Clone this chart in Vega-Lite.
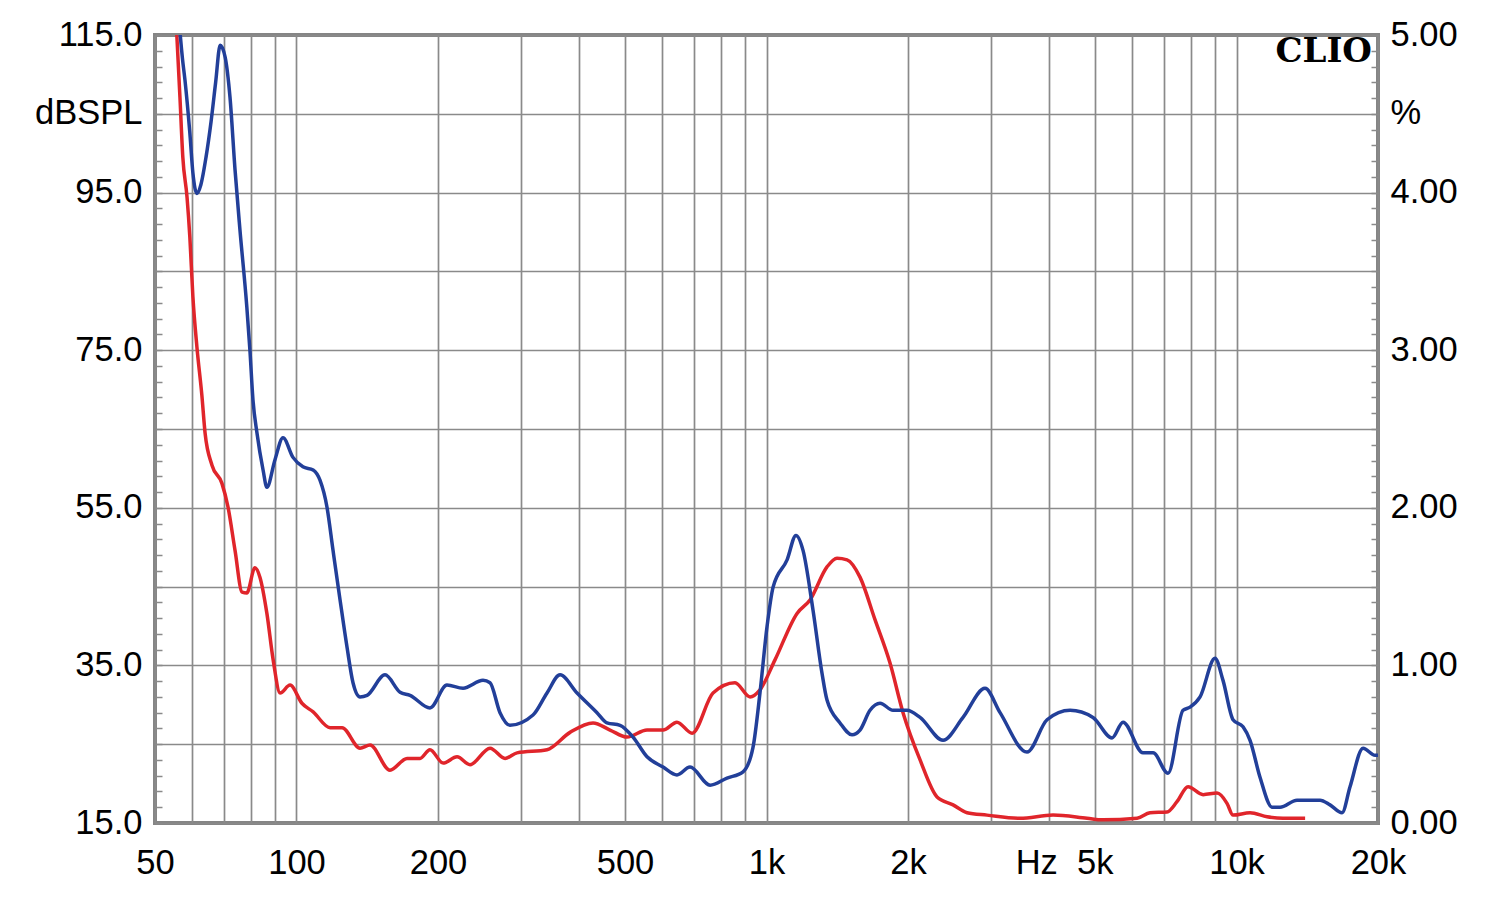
{
  "$schema": "https://vega.github.io/schema/vega-lite/v6.json",
  "width": 1223,
  "height": 788,
  "autosize": {"type": "none"},
  "padding": {"left": 155, "top": 35, "right": 122, "bottom": 76},
  "background": "white",
  "config": {
    "view": {"stroke": "#858585", "strokeWidth": 4},
    "axis": {"labelFont": "Liberation Sans", "labelFontSize": 34.5, "labelColor": "#000000", "domain": false}
  },
  "datasets": {
    "curves": [
      {"s":"r","f":55.5,"db":116.3},{"s":"r","f":56.5,"db":107.1},{"s":"r","f":57.3,"db":99.5},{"s":"r","f":58.5,"db":94.4},{"s":"r","f":59.3,"db":89.4},{"s":"r","f":60.2,"db":81.8},{"s":"r","f":61.4,"db":75.4},{"s":"r","f":62.9,"db":69.3},{"s":"r","f":63.9,"db":64.5},{"s":"r","f":66.1,"db":60.4},{"s":"r","f":69.4,"db":58.1},{"s":"r","f":71.5,"db":55.1},{"s":"r","f":74.0,"db":49.6},{"s":"r","f":76.6,"db":44.3},{"s":"r","f":78.4,"db":44.2},{"s":"r","f":81.6,"db":47.4},{"s":"r","f":83.6,"db":46.2},{"s":"r","f":86.5,"db":41.6},{"s":"r","f":89.2,"db":35.7},{"s":"r","f":92.3,"db":31.5},{"s":"r","f":96.9,"db":32.5},{"s":"r","f":102.7,"db":30.2},{"s":"r","f":108.5,"db":29.1},{"s":"r","f":117.9,"db":27.1},{"s":"r","f":125,"db":27.1},{"s":"r","f":136.5,"db":24.5},{"s":"r","f":143.4,"db":24.9},{"s":"r","f":158.1,"db":21.7},{"s":"r","f":171.9,"db":23.2},{"s":"r","f":183.2,"db":23.2},{"s":"r","f":192.3,"db":24.3},{"s":"r","f":205.1,"db":22.6},{"s":"r","f":219.6,"db":23.4},{"s":"r","f":234,"db":22.4},{"s":"r","f":258.1,"db":24.5},{"s":"r","f":277.8,"db":23.2},{"s":"r","f":294.6,"db":23.9},{"s":"r","f":341.2,"db":24.3},{"s":"r","f":381.9,"db":26.5},{"s":"r","f":427.5,"db":27.7},{"s":"r","f":464.6,"db":26.8},{"s":"r","f":505,"db":25.9},{"s":"r","f":557,"db":26.8},{"s":"r","f":602.5,"db":26.8},{"s":"r","f":645,"db":27.8},{"s":"r","f":694.5,"db":26.4},{"s":"r","f":769.5,"db":31.5},{"s":"r","f":857,"db":32.8},{"s":"r","f":922.5,"db":31.0},{"s":"r","f":968.5,"db":31.9},{"s":"r","f":1042.5,"db":35.7},{"s":"r","f":1161.5,"db":41.6},{"s":"r","f":1237.5,"db":43.3},{"s":"r","f":1345,"db":47.5},{"s":"r","f":1412.5,"db":48.6},{"s":"r","f":1484,"db":48.4},{"s":"r","f":1581,"db":46.2},{"s":"r","f":1701.5,"db":40.8},{"s":"r","f":1831.5,"db":35.3},{"s":"r","f":1952,"db":29.0},{"s":"r","f":2122,"db":23.0},{"s":"r","f":2306,"db":18.3},{"s":"r","f":2494,"db":17.3},{"s":"r","f":2671.5,"db":16.3},{"s":"r","f":2945.5,"db":16.0},{"s":"r","f":3462.5,"db":15.6},{"s":"r","f":4070.5,"db":16.0},{"s":"r","f":4808.5,"db":15.6},{"s":"r","f":5200,"db":15.4},{"s":"r","f":6145,"db":15.6},{"s":"r","f":6545,"db":16.3},{"s":"r","f":7115,"db":16.4},{"s":"r","f":7470,"db":17.7},{"s":"r","f":7885,"db":19.6},{"s":"r","f":8490,"db":18.6},{"s":"r","f":9090,"db":18.8},{"s":"r","f":9545,"db":17.5},{"s":"r","f":9830,"db":16.0},{"s":"r","f":10685,"db":16.3},{"s":"r","f":11615,"db":15.8},{"s":"r","f":12560,"db":15.6},{"s":"r","f":13995,"db":15.6},
      {"s":"b","f":56.3,"db":116.5},{"s":"b","f":57.2,"db":112.0},{"s":"b","f":57.9,"db":109.3},{"s":"b","f":59.3,"db":102.6},{"s":"b","f":60.2,"db":97.5},{"s":"b","f":61.4,"db":94.9},{"s":"b","f":62.6,"db":96.0},{"s":"b","f":64.2,"db":99.5},{"s":"b","f":65.8,"db":104.0},{"s":"b","f":67.3,"db":109.0},{"s":"b","f":68.8,"db":113.7},{"s":"b","f":70.5,"db":112.2},{"s":"b","f":72.2,"db":107.1},{"s":"b","f":74.0,"db":97.9},{"s":"b","f":75.8,"db":90.3},{"s":"b","f":78.4,"db":80.5},{"s":"b","f":79.6,"db":75.0},{"s":"b","f":80.8,"db":68.7},{"s":"b","f":82.4,"db":64.5},{"s":"b","f":84.9,"db":59.8},{"s":"b","f":86.5,"db":57.6},{"s":"b","f":90.0,"db":61.1},{"s":"b","f":93.6,"db":63.9},{"s":"b","f":98.3,"db":61.4},{"s":"b","f":103.2,"db":60.2},{"s":"b","f":108.5,"db":59.8},{"s":"b","f":112.2,"db":58.5},{"s":"b","f":116.1,"db":55.1},{"s":"b","f":119.6,"db":49.6},{"s":"b","f":123.8,"db":43.3},{"s":"b","f":128.1,"db":37.3},{"s":"b","f":131.9,"db":32.8},{"s":"b","f":136.5,"db":31.0},{"s":"b","f":141.3,"db":31.2},{"s":"b","f":154.3,"db":33.8},{"s":"b","f":166.1,"db":31.6},{"s":"b","f":174.4,"db":31.2},{"s":"b","f":192.3,"db":29.6},{"s":"b","f":209,"db":32.5},{"s":"b","f":226.1,"db":32.1},{"s":"b","f":249.4,"db":33.1},{"s":"b","f":258.1,"db":32.8},{"s":"b","f":271,"db":29.0},{"s":"b","f":284.6,"db":27.4},{"s":"b","f":318.6,"db":28.7},{"s":"b","f":341.2,"db":31.5},{"s":"b","f":363.7,"db":33.8},{"s":"b","f":395.3,"db":31.5},{"s":"b","f":435.9,"db":29.0},{"s":"b","f":457.8,"db":27.7},{"s":"b","f":488,"db":27.4},{"s":"b","f":520,"db":25.9},{"s":"b","f":557,"db":23.4},{"s":"b","f":602.5,"db":22.1},{"s":"b","f":645,"db":21.1},{"s":"b","f":687.5,"db":22.1},{"s":"b","f":758.5,"db":19.8},{"s":"b","f":824,"db":20.7},{"s":"b","f":891.5,"db":21.5},{"s":"b","f":936,"db":24.6},{"s":"b","f":968.5,"db":31.5},{"s":"b","f":1002.5,"db":39.9},{"s":"b","f":1032.5,"db":44.9},{"s":"b","f":1106,"db":48.4},{"s":"b","f":1155.5,"db":51.5},{"s":"b","f":1196,"db":49.6},{"s":"b","f":1256,"db":42.0},{"s":"b","f":1312.5,"db":34.0},{"s":"b","f":1345,"db":30.6},{"s":"b","f":1433.5,"db":27.7},{"s":"b","f":1520.5,"db":26.2},{"s":"b","f":1581,"db":26.8},{"s":"b","f":1660.5,"db":29.3},{"s":"b","f":1744,"db":30.2},{"s":"b","f":1858.5,"db":29.3},{"s":"b","f":1990.5,"db":29.3},{"s":"b","f":2122,"db":28.4},{"s":"b","f":2375,"db":25.5},{"s":"b","f":2619,"db":28.4},{"s":"b","f":2917,"db":32.1},{"s":"b","f":3140,"db":29.0},{"s":"b","f":3583,"db":24.0},{"s":"b","f":3953,"db":28.1},{"s":"b","f":4424,"db":29.3},{"s":"b","f":4950,"db":28.4},{"s":"b","f":5435,"db":25.8},{"s":"b","f":5735,"db":27.8},{"s":"b","f":6325,"db":23.9},{"s":"b","f":6645,"db":23.9},{"s":"b","f":7150,"db":21.3},{"s":"b","f":7695,"db":29.3},{"s":"b","f":7965,"db":29.7},{"s":"b","f":8365,"db":31.0},{"s":"b","f":9000,"db":35.9},{"s":"b","f":9360,"db":33.1},{"s":"b","f":9830,"db":28.1},{"s":"b","f":10325,"db":27.2},{"s":"b","f":10685,"db":25.5},{"s":"b","f":11220,"db":20.8},{"s":"b","f":11905,"db":17.0},{"s":"b","f":12375,"db":17.0},{"s":"b","f":13450,"db":17.9},{"s":"b","f":15055,"db":17.9},{"s":"b","f":15810,"db":17.3},{"s":"b","f":16770,"db":16.3},{"s":"b","f":17440,"db":19.6},{"s":"b","f":18585,"db":24.5},{"s":"b","f":19710,"db":23.6},{"s":"b","f":20000,"db":23.6}
    ],
    "brand": [{"f": 20000, "db": 112.8, "t": "CLIO"}]
  },
  "layer": [
    {
      "data": {"name": "curves"},
      "mark": {"type": "line", "interpolate": "monotone", "strokeWidth": 3.5, "clip": true},
      "encoding": {
        "x": {
          "field": "f", "type": "quantitative",
          "scale": {"type": "log", "domain": [50, 20000], "nice": false},
          "axis": {
            "title": null,
            "values": [50,60,70,80,90,100,200,300,400,500,600,700,800,900,1000,2000,3000,4000,5000,6000,7000,8000,9000,10000,20000],
            "grid": true, "gridColor": "#8a8a8a", "gridWidth": 1.7,
            "ticks": false, "labelPadding": 23,
            "labelOverlap": false, "labelFlush": false, "labelBound": false,
            "labelOffset": {"condition": {"test": "datum.value == 5000", "value": -31}, "value": 0},
            "labelExpr": "indexof([50,100,200,500,1000,2000,5000,10000,20000], datum.value) < 0 ? '' : (datum.value == 5000 ? 'Hz\u00a0\u00a05k' : (datum.value >= 1000 ? (datum.value/1000) + 'k' : '' + datum.value))"
          }
        },
        "y": {
          "field": "db", "type": "quantitative",
          "scale": {"domain": [15, 115], "nice": false, "zero": false},
          "axis": {
            "orient": "left", "title": null,
            "values": [15,17,19,21,23,25,27,29,31,33,35,37,39,41,43,45,47,49,51,53,55,57,59,61,63,65,67,69,71,73,75,77,79,81,83,85,87,89,91,93,95,97,99,101,103,105,107,109,111,113,115],
            "grid": true, "gridColor": "#8a8a8a", "gridWidth": 1.7,
            "gridOpacity": {"condition": {"test": "(datum.value - 15) % 10 == 0", "value": 1}, "value": 0},
            "ticks": true, "tickSize": -7, "tickColor": "#8a8a8a", "tickWidth": 1.5,
            "labelPadding": 20, "labelOverlap": false, "labelFlush": false, "labelBound": false,
            "labelExpr": "(datum.value - 15) % 20 == 0 ? format(datum.value, '.1f') : (datum.value == 105 ? 'dBSPL' : '')"
          }
        },
        "color": {"field": "s", "type": "nominal", "scale": {"domain": ["r", "b"], "range": ["#e0252b", "#223f99"]}, "legend": null}
      }
    },
    {
      "data": {"name": "brand"},
      "mark": {"type": "text", "font": "DejaVu Serif", "fontWeight": "bold", "fontSize": 34, "align": "right", "baseline": "middle", "dx": -6, "color": "#000000"},
      "encoding": {
        "x": {"field": "f", "type": "quantitative", "axis": null},
        "y": {
          "field": "db", "type": "quantitative",
          "axis": {
            "orient": "right", "title": null,
            "values": [15,17,19,21,23,25,27,29,31,33,35,37,39,41,43,45,47,49,51,53,55,57,59,61,63,65,67,69,71,73,75,77,79,81,83,85,87,89,91,93,95,97,99,101,103,105,107,109,111,113,115],
            "grid": false,
            "ticks": true, "tickSize": -7, "tickColor": "#8a8a8a", "tickWidth": 1.5,
            "labelPadding": 19, "labelOverlap": false, "labelFlush": false, "labelBound": false,
            "labelExpr": "(datum.value - 15) % 20 == 0 ? format((datum.value - 15) / 20, '.2f') : (datum.value == 105 ? '%' : '')"
          }
        },
        "text": {"field": "t"}
      }
    }
  ],
  "resolve": {"axis": {"x": "independent", "y": "independent"}}
}
